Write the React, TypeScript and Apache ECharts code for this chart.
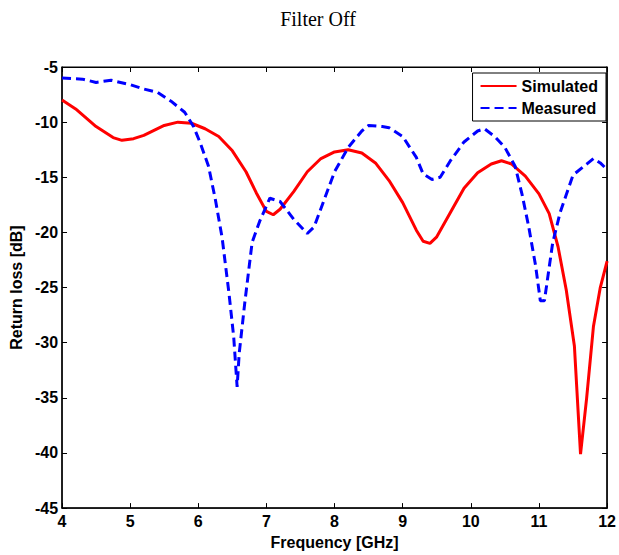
import React, { useEffect, useRef } from "react";
import * as echarts from "echarts";

const simFreq = [4.0, 4.2, 4.5, 4.75, 4.88, 5.05, 5.2, 5.5, 5.7, 5.9, 6.1, 6.3, 6.5, 6.7, 6.85, 7.0, 7.1, 7.2, 7.4, 7.6, 7.8, 8.0, 8.2, 8.4, 8.6, 8.8, 9.0, 9.2, 9.3, 9.4, 9.5, 9.7, 9.9, 10.1, 10.3, 10.45, 10.6, 10.8, 11.0, 11.15, 11.28, 11.4, 11.52, 11.61, 11.7, 11.8, 11.9, 12.0];
const simLoss = [-8.0, -8.8, -10.4, -11.4, -11.65, -11.5, -11.2, -10.3, -10.0, -10.1, -10.6, -11.3, -12.6, -14.5, -16.4, -18.1, -18.4, -17.9, -16.3, -14.5, -13.3, -12.7, -12.5, -12.8, -13.7, -15.3, -17.3, -19.8, -20.8, -21.0, -20.4, -18.2, -16.0, -14.6, -13.8, -13.5, -13.8, -14.9, -16.5, -18.3, -21.3, -25.2, -30.3, -40.1, -35.0, -28.5, -25.0, -22.6];

const measFreq = [4.0, 4.3, 4.5, 4.72, 5.0, 5.2, 5.4, 5.6, 5.8, 5.93, 6.03, 6.15, 6.25, 6.35, 6.45, 6.52, 6.57, 6.6, 6.68, 6.79, 6.9, 7.05, 7.2, 7.4, 7.6, 7.7, 7.85, 8.0, 8.2, 8.4, 8.5, 8.7, 8.8, 9.0, 9.2, 9.3, 9.43, 9.55, 9.7, 9.9, 10.1, 10.2, 10.35, 10.5, 10.65, 10.75, 10.85, 10.95, 11.02, 11.08, 11.2, 11.31, 11.5, 11.7, 11.8, 11.9, 12.0];
const measLoss = [-6.0, -6.1, -6.4, -6.2, -6.6, -7.0, -7.3, -8.1, -9.1, -10.4, -11.9, -14.0, -17.0, -20.5, -25.5, -29.5, -34.0, -31.0, -26.5, -20.9, -19.0, -16.9, -17.2, -18.8, -20.1, -19.5, -17.0, -14.5, -12.3, -10.8, -10.3, -10.4, -10.5, -11.3, -13.2, -14.7, -15.2, -15.0, -13.5, -11.8, -10.8, -10.6, -11.3, -12.3, -14.0, -16.5, -19.5, -23.0, -26.2, -26.2, -21.0, -18.2, -14.8, -13.8, -13.3, -13.7, -14.3];

const xTicks = { min: 4, max: 12, step: 1 };
const yTicks = { min: -45, max: -5, step: 5 };

const font = "Liberation Sans, Arial, sans-serif";

export default function App() {
  const ref = useRef<HTMLDivElement>(null);
  useEffect(() => {
    if (!ref.current) return;
    const chart = echarts.init(ref.current, undefined, { renderer: "svg" });
    const labelStyle = { color: "#000", fontWeight: "bold", fontSize: 16, fontFamily: font };
    chart.setOption({
      animation: false,
      backgroundColor: "#fff",
      title: {
        text: "Filter Off",
        left: 313,
        textAlign: "center",
        top: 4,
        textStyle: { fontFamily: "Liberation Serif, Times New Roman, serif", fontWeight: "normal", fontSize: 20, color: "#000" },
      },
      grid: { left: 61, right: 10, top: 67, bottom: 46, show: true, borderColor: "#000", borderWidth: 1, backgroundColor: "transparent" },
      legend: {
        orient: "vertical",
        right: 13,
        top: 73,
        backgroundColor: "#fff",
        borderColor: "#000",
        borderWidth: 1,
        borderRadius: 0,
        padding: [5, 8, 5, 7],
        itemGap: 6,
        itemWidth: 36,
        itemHeight: 14,
        itemStyle: { opacity: 0 },
        textStyle: { ...labelStyle },
        data: ["Simulated", "Measured"],
      },
      xAxis: [
        {
          type: "value",
          min: xTicks.min,
          max: xTicks.max,
          interval: xTicks.step,
          name: "Frequency [GHz]",
          nameLocation: "middle",
          nameGap: 24,
          nameTextStyle: labelStyle,
          axisLine: { lineStyle: { color: "#000", width: 1.5 } },
          axisTick: { inside: true, length: 5, lineStyle: { color: "#000" } },
          axisLabel: { ...labelStyle, margin: 5 },
          splitLine: { show: false },
        },
        {
          type: "value",
          position: "top",
          min: xTicks.min,
          max: xTicks.max,
          interval: xTicks.step,
          axisLine: { show: true, lineStyle: { color: "#000", width: 1 } },
          axisTick: { inside: true, length: 5, lineStyle: { color: "#000" } },
          axisLabel: { show: false },
          splitLine: { show: false },
        },
      ],
      yAxis: [
        {
          type: "value",
          min: yTicks.min,
          max: yTicks.max,
          interval: yTicks.step,
          name: "Return loss [dB]",
          nameLocation: "middle",
          nameGap: 33,
          nameTextStyle: labelStyle,
          axisLine: { show: true, lineStyle: { color: "#000", width: 1.5 } },
          axisTick: { show: true, inside: true, length: 5, lineStyle: { color: "#000" } },
          axisLabel: { ...labelStyle, margin: 4 },
          splitLine: { show: false },
        },
        {
          type: "value",
          position: "right",
          min: yTicks.min,
          max: yTicks.max,
          interval: yTicks.step,
          axisLine: { show: true, lineStyle: { color: "#000", width: 1.5 } },
          axisTick: { show: true, inside: true, length: 5, lineStyle: { color: "#000" } },
          axisLabel: { show: false },
          splitLine: { show: false },
        },
      ],
      series: [
        {
          name: "Simulated",
          type: "line",
          symbol: "none",
          smooth: false,
          lineStyle: { color: "#ff0000", width: 3 },
          itemStyle: { color: "#ff0000" },
          data: simFreq.map((f, i) => [f, simLoss[i]]),
        },
        {
          name: "Measured",
          type: "line",
          symbol: "none",
          smooth: false,
          lineStyle: { color: "#0000ff", width: 3, type: [9, 5] },
          itemStyle: { color: "#0000ff" },
          data: measFreq.map((f, i) => [f, measLoss[i]]),
        },
      ],
    });
    return () => chart.dispose();
  }, []);
  return <div ref={ref} style={{ width: 619, height: 555, position: "absolute", left: 0, top: 0 }} />;
}
